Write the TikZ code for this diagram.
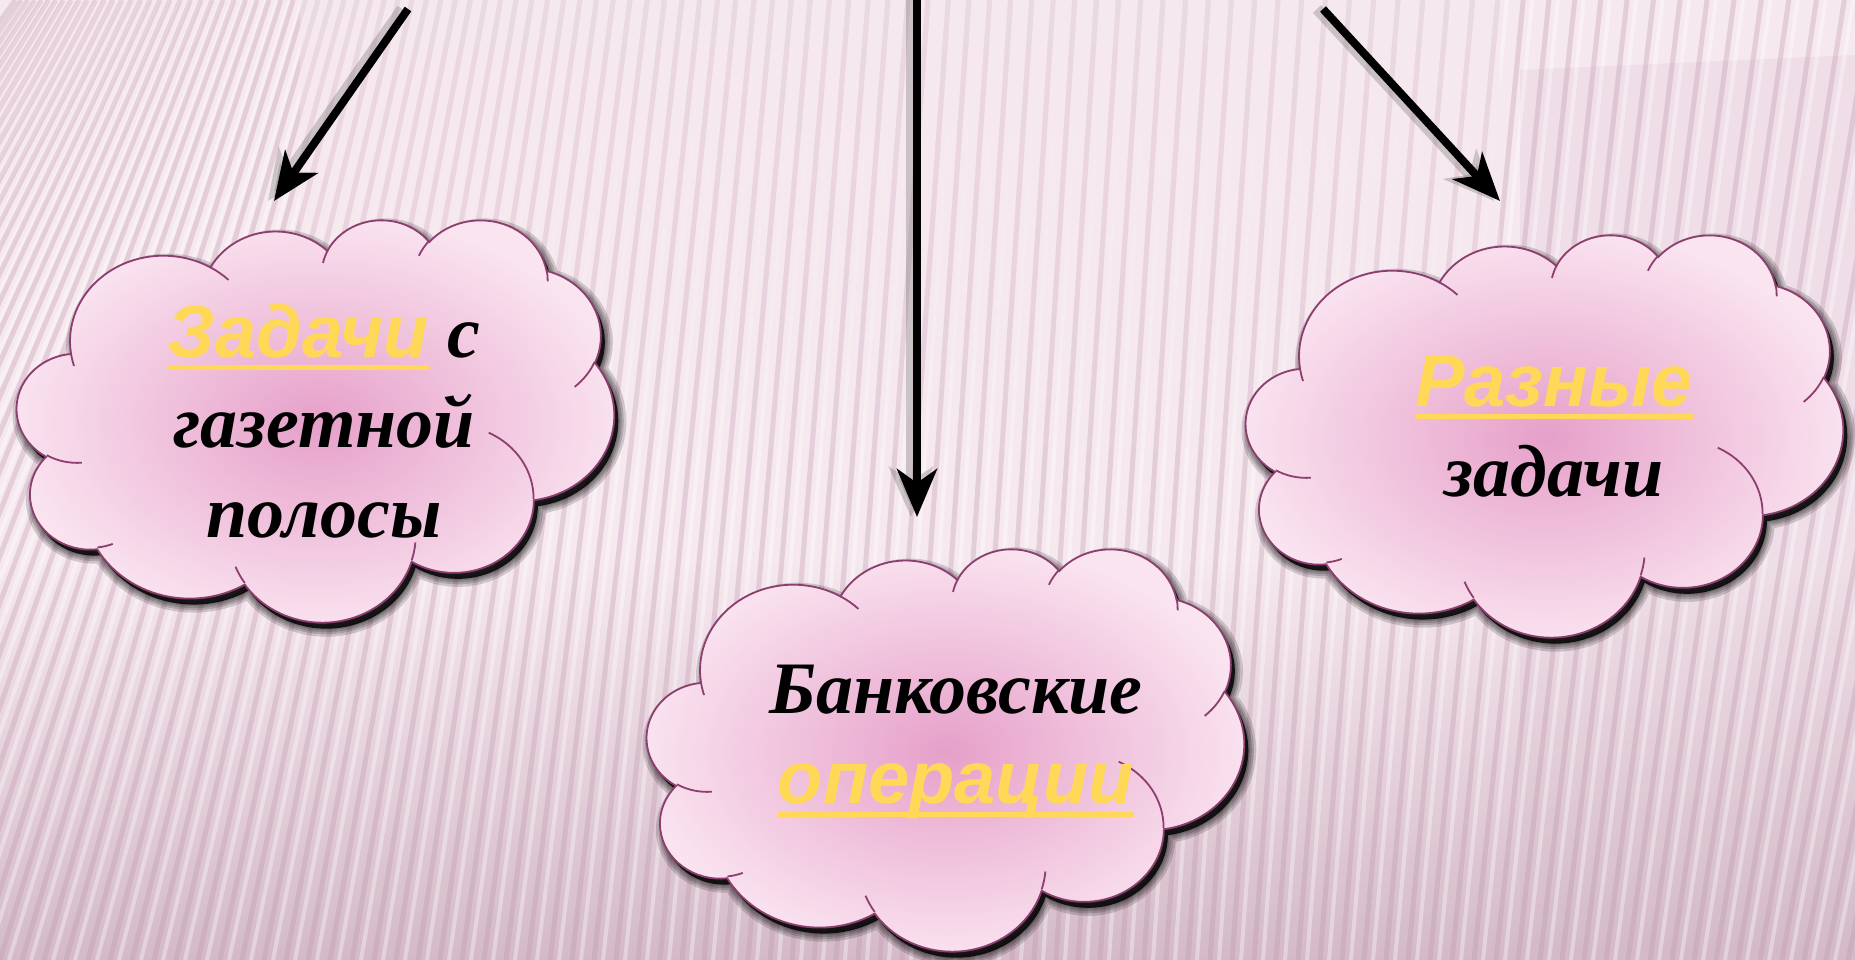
\documentclass[tikz,border=0pt]{standalone}
\usepackage{fontspec}
\setmainfont{Liberation Serif}
\newfontfamily\sansf{Liberation Sans}
\usetikzlibrary{arrows.meta}

\definecolor{bglight}{RGB}{246,232,239}
\definecolor{bgdark}{RGB}{212,186,200}
\definecolor{stripe}{RGB}{190,150,172}
\definecolor{cloudmid}{RGB}{230,160,201}
\definecolor{cloudrim}{RGB}{250,228,240}
\definecolor{cloudline}{RGB}{140,62,110}
\definecolor{wordyellow}{RGB}{255,216,88}

\newcommand\cloudarc[4]{arc[x radius=#1, y radius=#2,
  start angle={atan2((#1)*sin(#3),(#2)*cos(#3))},
  delta angle={Mod(atan2((#1)*sin((#3)+(#4)),(#2)*cos((#3)+(#4)))-atan2((#1)*sin(#3),(#2)*cos(#3)),360)}]}
\newcommand\cloudshape{(3.9,14.37) \cloudarc{6.753}{9.19}{-190.487}{123.781}
  \cloudarc{5.333}{7.267}{-144.102}{89.945} \cloudarc{4.365}{5.945}{-145.808}{99.723}
  \cloudarc{4.857}{6.595}{-130.986}{117.242} \cloudarc{5.333}{7.273}{-78.709}{109.027}
  \cloudarc{6.775}{9.22}{-46.267}{130.269} \cloudarc{5.785}{7.867}{0.625}{114.033}
  \cloudarc{6.752}{9.215}{22.452}{115.173} \cloudarc{7.72}{10.543}{66.243}{75.711}
  \cloudarc{4.36}{5.918}{-274.942}{146.736} \cloudarc{4.345}{5.945}{-246.829}{152.519} -- cycle}
\newcommand\cloudfolds{(4.693,26.177) \cloudarc{4.345}{5.945}{86.742}{26.43}
  (6.928,34.899) \cloudarc{4.36}{5.918}{73.61}{11.447}
  (16.478,39.09) \cloudarc{6.752}{9.215}{137.624}{14.081}
  (28.827,34.751) \cloudarc{6.752}{9.215}{6.453}{15.998}
  (34.129,22.954) \cloudarc{5.785}{7.867}{-70.292}{70.917}
  (41.798,15.354) \cloudarc{5.333}{7.273}{30.318}{27.752}
  (38.324,5.426) \cloudarc{4.857}{6.595}{-13.744}{14.859}
  (29.078,3.952) \cloudarc{4.857}{6.595}{-149.181}{18.195}
  (22.141,4.72) \cloudarc{4.365}{5.945}{-163.494}{17.686}
  (14,5.192) \cloudarc{6.753}{9.19}{-66.707}{12.319}
  (4.127,15.789) \cloudarc{6.753}{9.19}{157.654}{11.858}}

\newcommand\ulword[1]{\setbox0=\hbox{#1}\rlap{\rule[-13pt]{\wd0}{5pt}}\box0}
\newcommand\yw[1]{{\sansf\bfseries\itshape\color{wordyellow}\ulword{#1}}}

\tikzset{
  stripeline/.style={stripe,opacity=.32,line width=5pt},
  stripeshine/.style={white,opacity=.35,line width=4pt},
  cloudbox/.style={x=13.82pt,y=-9.31pt},
  cloudshade/.style={black,opacity=.16,line join=round},
  cloudbody/.style={draw=cloudline,line width=1.8pt,inner color=cloudmid,outer color=cloudrim},
  cloudfold/.style={cloudline,line width=1.8pt},
  cloudtext/.style={align=center,inner sep=0pt,font=\fontsize{74}{90}\selectfont\bfseries\itshape},
  pointer/.style={black,line width=8pt,-{Stealth[length=48pt,width=40pt,inset=14pt]}},
  pointershade/.style={black!60,opacity=.3,line width=11pt,-{Stealth[length=50pt,width=44pt,inset=14pt]}}
}

\begin{document}
\begin{tikzpicture}[x=1pt,y=-1pt]
\useasboundingbox (0,0) rectangle (1855,960);
\clip (0,0) rectangle (1855,960);
\fill[bglight] (0,0) rectangle (1855,960);
\shade[top color=bglight,bottom color=bgdark] (0,560) rectangle (1855,960);
\fill[bgdark,opacity=.2] (1520,70) -- (1855,55) -- (1855,960) -- (1520,960) -- cycle;
\foreach \i in {0,...,120}{
  \pgfmathsetmacro\xb{-660+22*\i}
  \pgfmathsetmacro\xt{\xb+210.2*(\xb/1000)^2-440.3*(\xb/1000)+293}
  \draw[stripeline] (\xb,960) -- (\xt,0);
  \draw[stripeshine] (\xb+9,960) -- (\xt+9,0);
}
\foreach \i in {1,...,10} \fill[bglight,opacity=.08] (300,0) rectangle (1500,45*\i);

\begin{scope}[shift={(17,219)},cloudbox]
  \begin{scope}[xshift=4pt,yshift=-6pt]
    \foreach \w in {16,11,7,3} \draw[cloudshade,line width=\w pt] \cloudshape;
    \fill[black,opacity=.85] \cloudshape;
  \end{scope}
  \shadedraw[cloudbody] \cloudshape;
  \draw[cloudfold] \cloudfolds;
\end{scope}
\begin{scope}[shift={(647,548)},cloudbox]
  \begin{scope}[xshift=4pt,yshift=-6pt]
    \foreach \w in {16,11,7,3} \draw[cloudshade,line width=\w pt] \cloudshape;
    \fill[black,opacity=.85] \cloudshape;
  \end{scope}
  \shadedraw[cloudbody] \cloudshape;
  \draw[cloudfold] \cloudfolds;
\end{scope}
\begin{scope}[shift={(1246,234)},cloudbox]
  \begin{scope}[xshift=4pt,yshift=-6pt]
    \foreach \w in {16,11,7,3} \draw[cloudshade,line width=\w pt] \cloudshape;
    \fill[black,opacity=.85] \cloudshape;
  \end{scope}
  \shadedraw[cloudbody] \cloudshape;
  \draw[cloudfold] \cloudfolds;
\end{scope}

\node[cloudtext] (gazeta) at (324,421) {\yw{Задачи} с\\газетной\\полосы};
\node[cloudtext] (bank) at (956,742) {Банковские\\\yw{операции}};
\node[cloudtext] (raznye) at (1554,426) {\yw{Разные}\\задачи};

\coordinate (from1) at (408,9);
\coordinate (to1) at (274,201);
\coordinate (from2) at (917,0);
\coordinate (to2) at (917,517);
\coordinate (from3) at (1323,9);
\coordinate (to3) at (1500,201);
\draw[pointershade] ([xshift=-6pt]from1) -- ([xshift=-6pt]to1);
\draw[pointershade] ([xshift=-6pt]from2) -- ([xshift=-6pt]to2);
\draw[pointershade] ([xshift=-6pt]from3) -- ([xshift=-6pt]to3);
\draw[pointer] (from1) -- (to1);
\draw[pointer] (from2) -- (to2);
\draw[pointer] (from3) -- (to3);
\end{tikzpicture}
\end{document}
